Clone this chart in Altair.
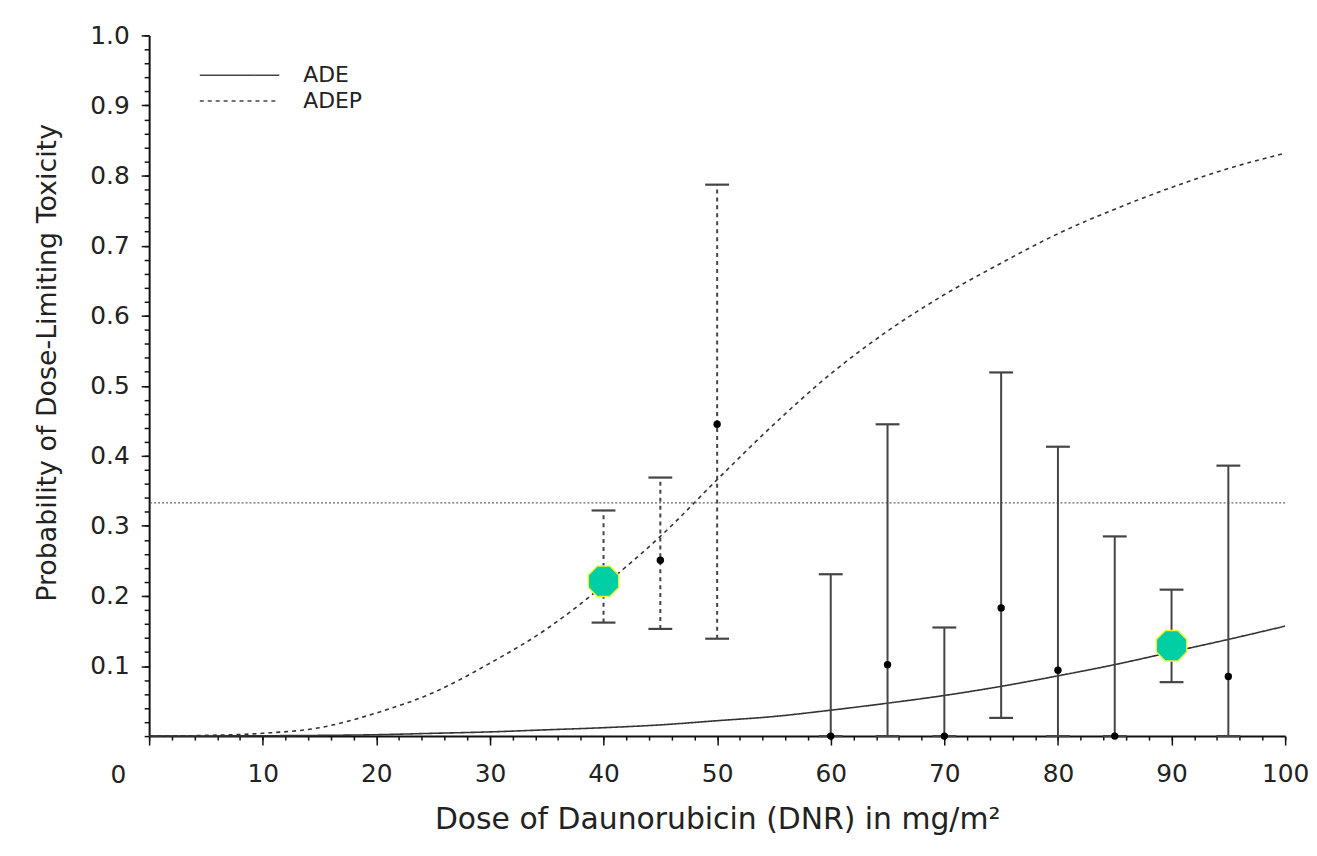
import altair as alt
import pandas as pd

# ---- data ----
curve_dose = [0, 5, 10, 15, 20, 25, 30, 35, 40, 45, 50, 55, 60, 65, 70, 75, 80, 85, 90, 95, 100]
ade_p = [0.0, 0.0002, 0.0005, 0.001, 0.002, 0.004, 0.006, 0.009, 0.012, 0.016, 0.022,
         0.028, 0.037, 0.047, 0.058, 0.071, 0.086, 0.102, 0.12, 0.138, 0.157]
adep_p = [0.0, 0.001, 0.004, 0.012, 0.033, 0.062, 0.104, 0.153, 0.215, 0.285, 0.366,
          0.445, 0.517, 0.578, 0.63, 0.675, 0.717, 0.752, 0.783, 0.81, 0.832]

eb_dose = [40, 45, 50, 60, 65, 70, 75, 80, 85, 90, 95]
eb_low = [0.162, 0.153, 0.139, 0.0, 0.0, 0.0, 0.026, 0.0, 0.0, 0.077, 0.0]
eb_high = [0.322, 0.369, 0.787, 0.231, 0.445, 0.155, 0.519, 0.413, 0.285, 0.209, 0.386]
eb_series = ["ADEP", "ADEP", "ADEP", "ADE", "ADE", "ADE", "ADE", "ADE", "ADE", "ADE", "ADE"]

obs_dose = [45, 50, 60, 65, 70, 75, 80, 85, 95]
obs_p = [0.251, 0.445, 0.0, 0.102, 0.0, 0.183, 0.094, 0.0, 0.085]

hl_dose = [40, 90]
hl_p = [0.221, 0.129]

target = [0.333]
series_names = ["ADE", "ADEP"]
origin_label = ["0"]

x_major = [0, 10, 20, 30, 40, 50, 60, 70, 80, 90, 100]
x_minor = [i * 2 for i in range(51)]
y_major = [0.1, 0.2, 0.3, 0.4, 0.5, 0.6, 0.7, 0.8, 0.9, 1.0]
y_minor = [round(i * 0.02, 2) for i in range(51)]

FONT = "DejaVu Sans"

curves = pd.DataFrame({
    "dose": curve_dose * 2,
    "p": ade_p + adep_p,
    "series": [series_names[0]] * len(curve_dose) + [series_names[1]] * len(curve_dose),
})
bars = pd.DataFrame({"dose": eb_dose, "low": eb_low, "high": eb_high, "series": eb_series})
obs = pd.DataFrame({"dose": obs_dose, "p": obs_p})
hl = pd.DataFrame({"dose": hl_dose, "p": hl_p})
tgt = pd.DataFrame({"p": target})
org = pd.DataFrame({"dose": [0], "p": [0], "label": origin_label})

xscale = alt.Scale(domain=[0, 100], nice=False, zero=False)
yscale = alt.Scale(domain=[0, 1], nice=False)

x_axis_major = alt.Axis(
    orient="bottom",
    values=x_major,
    labelExpr="datum.value == 0 ? '' : datum.label",
    tickSize=9,
    labelPadding=17,
    labelFlush=False,
    labelOverlap=False,
    title="Dose of Daunorubicin (DNR) in mg/m²",
    titlePadding=18,
    grid=False,
)
y_axis_major = alt.Axis(
    orient="left",
    values=y_major,
    format=".1f",
    tickSize=8,
    labelPadding=12,
    labelFlush=False,
    labelOverlap=False,
    title="Probability of Dose-Limiting Toxicity",
    titlePadding=28,
    titleY=329,
    grid=False,
)
x_axis_minor = alt.Axis(orient="bottom", values=x_minor, labels=False, title=None,
                        domain=False, tickSize=4, grid=False)
y_axis_minor = alt.Axis(orient="left", values=y_minor, labels=False, title=None,
                        domain=False, tickSize=5, grid=False)

dash_scale = alt.Scale(domain=series_names, range=[[1, 0], [4, 4]])

legend_line = "M-2.857,0L2.857,0"

lines = alt.Chart(curves).mark_line(color="#333", strokeWidth=1.6, interpolate="monotone").encode(
    x=alt.X("dose:Q", scale=xscale, axis=x_axis_major),
    y=alt.Y("p:Q", scale=yscale, axis=y_axis_major),
    strokeDash=alt.StrokeDash(
        "series:N", scale=dash_scale,
        legend=alt.Legend(
            title=None, orient="none", legendX=76, legendY=25,
            symbolType=legend_line, symbolSize=784, symbolStrokeWidth=1.5,
            symbolStrokeColor="#333", symbolOffset=0, labelFont=FONT, labelFontSize=22,
            labelColor="#222", labelOffset=49, rowPadding=0,
        ),
    ),
    detail="series:N",
)

rule_target = alt.Chart(tgt).mark_rule(color="#666", strokeWidth=1.3, strokeDash=[2, 2]).encode(
    y=alt.Y("p:Q", scale=yscale, axis=None)
)

err = alt.Chart(bars).mark_rule(color="#444", strokeWidth=2).encode(
    x=alt.X("dose:Q", scale=xscale, axis=x_axis_minor),
    y=alt.Y("low:Q", scale=yscale, axis=y_axis_minor),
    y2="high:Q",
    strokeDash=alt.StrokeDash("series:N", scale=dash_scale),
)
cap_hi = alt.Chart(bars).mark_rule(color="#444", strokeWidth=2.2, xOffset=-12, x2Offset=12).encode(
    x=alt.X("dose:Q", scale=xscale, axis=None),
    x2="dose:Q",
    y=alt.Y("high:Q", scale=yscale, axis=None),
)
cap_lo = alt.Chart(bars).mark_rule(color="#444", strokeWidth=2.2, xOffset=-12, x2Offset=12).encode(
    x=alt.X("dose:Q", scale=xscale, axis=None),
    x2="dose:Q",
    y=alt.Y("low:Q", scale=yscale, axis=None),
)

dots = alt.Chart(obs).mark_point(filled=True, color="#000", size=55, opacity=1, shape="circle").encode(
    x=alt.X("dose:Q", scale=xscale, axis=None),
    y=alt.Y("p:Q", scale=yscale, axis=None),
)

octagon = "M-0.383,-0.924L0.383,-0.924L0.924,-0.383L0.924,0.383L0.383,0.924L-0.383,0.924L-0.924,0.383L-0.924,-0.383Z"
hls = alt.Chart(hl).mark_point(
    filled=True, fill="#00CFA4", stroke="#F2F23A", strokeWidth=1.5, size=1100, opacity=1, shape=octagon
).encode(
    x=alt.X("dose:Q", scale=xscale, axis=None),
    y=alt.Y("p:Q", scale=yscale, axis=None),
)

zero_txt = alt.Chart(org).mark_text(
    font=FONT, fontSize=25, color="#222", dx=-31, dy=39, align="center", baseline="middle"
).encode(
    x=alt.X("dose:Q", scale=xscale, axis=None),
    y=alt.Y("p:Q", scale=yscale, axis=None),
    text="label:N",
)

chart = alt.layer(lines, rule_target, err, cap_hi, cap_lo, dots, hls, zero_txt).resolve_axis(
    x="independent", y="independent"
).properties(
    width=1143,
    height=705,
    autosize=alt.AutoSizeParams(type="none"),
    padding={"left": 142, "top": 25, "right": 24, "bottom": 110},
    background="white",
).configure_view(stroke=None).configure_axis(
    domainColor="#111", domainWidth=2, tickColor="#111", tickWidth=1.5,
    labelFont=FONT, labelFontSize=25, labelColor="#222",
    titleFont=FONT, titleFontSize=27, titleFontWeight="normal", titleColor="#222",
).configure_axisX(titleFontSize=30)

chart.save("out.html", embed_options={"renderer": "svg", "actions": False})
